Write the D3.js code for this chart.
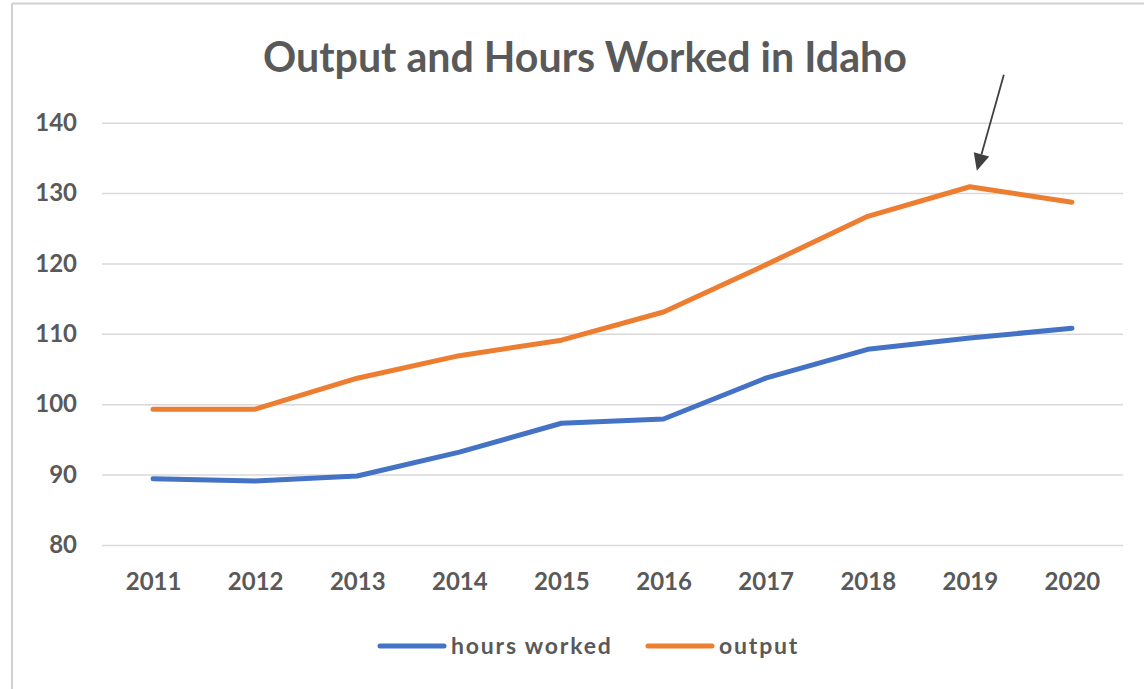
<!DOCTYPE html>
<html>
<head>
<meta charset="utf-8">
<script src="https://cdn.jsdelivr.net/npm/d3@7"></script>
<style>
  html, body { margin: 0; padding: 0; background: #fff; }
  #chart { width: 1144px; height: 689px; }
</style>
</head>
<body>
<div id="chart"></div>
<script>
  var years = ['2011', '2012', '2013', '2014', '2015', '2016', '2017', '2018', '2019', '2020'];
  var hoursWorked = [89.4, 89.1, 89.8, 93.2, 97.3, 97.9, 103.7, 107.8, 109.4, 110.8];
  var output = [99.3, 99.3, 103.7, 106.9, 109.1, 113.1, 119.8, 126.7, 130.9, 128.7];
  var yTicks = [80, 90, 100, 110, 120, 130, 140];
  var seriesNames = ['hours worked', 'output'];
  var seriesColors = ['#4472C4', '#ED7D31'];

  var W = 1144, H = 689;
  var plot = { left: 102, right: 1123, top: 122.7, bottom: 545 };
  var textColor = '#595959';
  var fontFamily = 'Lato, "Open Sans", sans-serif';

  var svg = d3.select('#chart')
    .append('svg')
    .attr('width', W)
    .attr('height', H);

  // chart frame (only top and left edges visible in the crop)
  svg.append('line')
    .attr('x1', 12).attr('x2', W).attr('y1', 3.5).attr('y2', 3.5)
    .attr('stroke', '#d0d0d0').attr('stroke-width', 2);
  svg.append('line')
    .attr('x1', 12).attr('x2', 12).attr('y1', 3.5).attr('y2', H)
    .attr('stroke', '#d0d0d0').attr('stroke-width', 2);

  var x = d3.scalePoint()
    .domain(years)
    .range([plot.left, plot.right])
    .padding(0.5);

  var y = d3.scaleLinear()
    .domain([80, 140])
    .range([plot.bottom, plot.top]);

  // gridlines + y labels
  var yAxis = svg.append('g')
    .attr('transform', 'translate(' + plot.left + ',0)')
    .call(d3.axisLeft(y).tickValues(yTicks).tickSize(-(plot.right - plot.left)).tickPadding(25));
  yAxis.select('.domain').remove();
  yAxis.selectAll('line')
    .attr('stroke', '#d9d9d9')
    .attr('stroke-width', 1.5);
  yAxis.selectAll('text')
    .attr('fill', textColor)
    .style('font-family', fontFamily)
    .style('font-size', '24px')
    .style('font-weight', '700');

  // x labels
  var xAxis = svg.append('g')
    .attr('transform', 'translate(0,' + plot.bottom + ')')
    .call(d3.axisBottom(x).tickSize(0).tickPadding(0));
  xAxis.select('.domain').remove();
  xAxis.selectAll('text')
    .attr('dy', null)
    .attr('y', 45)
    .attr('fill', textColor)
    .style('font-family', fontFamily)
    .style('font-size', '24px')
    .style('font-weight', '700');

  // series lines
  var line = d3.line()
    .x(function (d, i) { return x(years[i]); })
    .y(function (d) { return y(d); });

  [hoursWorked, output].forEach(function (vals, k) {
    svg.append('path')
      .datum(vals)
      .attr('d', line)
      .attr('fill', 'none')
      .attr('stroke', seriesColors[k])
      .attr('stroke-width', 5)
      .attr('stroke-linejoin', 'round')
      .attr('stroke-linecap', 'round');
  });

  // title, scaled to the width it takes in the original
  var title = svg.append('text')
    .attr('x', 585)
    .attr('y', 72)
    .attr('text-anchor', 'middle')
    .attr('fill', textColor)
    .style('font-family', fontFamily)
    .style('font-weight', '700')
    .style('font-size', '40px')
    .text('Output and Hours Worked in Idaho');
  var tw = title.node().getComputedTextLength();
  title.style('font-size', (40 * 644 / tw) + 'px');

  // arrow pointing at the 2019 output peak
  var peakX = x('2019'), peakY = y(output[8]);
  var tip = [peakX + 7, peakY - 16];
  var tail = [peakX + 34, peakY - 112];
  var ang = Math.atan2(tip[1] - tail[1], tip[0] - tail[0]);
  var headLen = 17, headHalf = 8;
  var bx = tip[0] - headLen * Math.cos(ang), by = tip[1] - headLen * Math.sin(ang);
  svg.append('line')
    .attr('x1', tail[0]).attr('y1', tail[1])
    .attr('x2', bx).attr('y2', by)
    .attr('stroke', '#404040').attr('stroke-width', 1.8);
  svg.append('path')
    .attr('d', 'M' + tip[0] + ',' + tip[1] +
      'L' + (bx + headHalf * Math.sin(ang)) + ',' + (by - headHalf * Math.cos(ang)) +
      'L' + (bx - headHalf * Math.sin(ang)) + ',' + (by + headHalf * Math.cos(ang)) + 'Z')
    .attr('fill', '#404040');

  // legend
  var legendX = [380, 648];
  var legend = svg.append('g');
  seriesNames.forEach(function (name, k) {
    legend.append('line')
      .attr('x1', legendX[k]).attr('x2', legendX[k] + 64)
      .attr('y1', 646).attr('y2', 646)
      .attr('stroke', seriesColors[k])
      .attr('stroke-width', 5)
      .attr('stroke-linecap', 'round');
    legend.append('text')
      .attr('x', legendX[k] + 71)
      .attr('y', 654)
      .attr('fill', textColor)
      .style('font-family', fontFamily)
      .style('font-size', '23px')
      .style('font-weight', '700')
      .style('letter-spacing', '1.8px')
      .text(name);
  });
</script>
</body>
</html>
